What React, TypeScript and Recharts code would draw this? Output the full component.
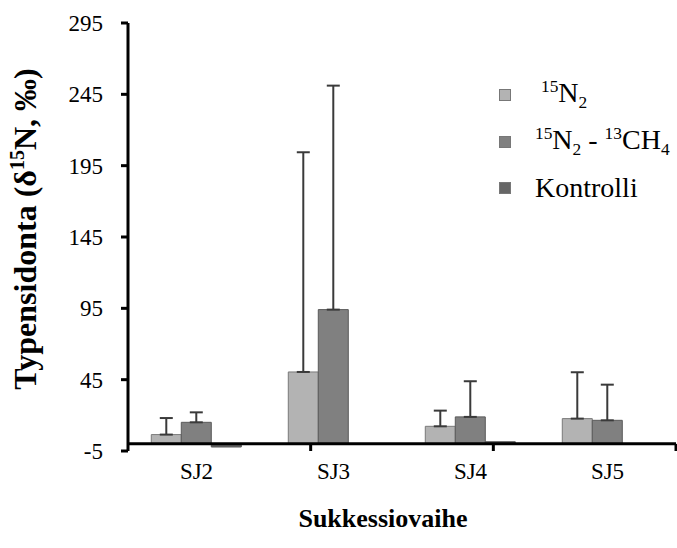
import { BarChart, Bar, XAxis, YAxis, ErrorBar, ReferenceLine, Legend } from 'recharts';

// Typensidonta sukkessiovaiheittain (δ15N, ‰), keskiarvo + keskihajonta ylöspäin
const categories = ['SJ2', 'SJ3', 'SJ4', 'SJ5'];
const n2Values = [6.5, 50.4, 12.3, 17.7];
const n2Errors = [11.6, 154, 11, 32.5];
const n2ch4Values = [15.1, 94.1, 18.9, 16.5];
const n2ch4Errors = [7, 157, 25, 25];
const controlValues = [-2.2, 0, 1.5, 0];
const yTicks = [-5, 45, 95, 145, 195, 245, 295];
// rajat kategorioiden välissä (apuakselilla 0..4)
const boundaries = [1, 2, 3, 4];

const FONT = 'Liberation Serif, Tinos, DejaVu Serif, serif';
const LIGHT = '#b3b3b3';
const MID = '#808080';
const DARK = '#666666';

const rows = categories.map((name, i) => ({
  name,
  n2: n2Values[i],
  n2Err: [0, n2Errors[i]],
  n2ch4: n2ch4Values[i],
  n2ch4Err: [0, n2ch4Errors[i]],
  kontrolli: controlValues[i],
}));

const sup = { fontSize: '0.62em', verticalAlign: '0.6em' } as const;
const sub = { fontSize: '0.62em', verticalAlign: '-0.35em' } as const;

const legendItems = [
  { color: LIGHT, indent: 6, label: <><span style={sup}>15</span>N<span style={sub}>2</span></> },
  {
    color: MID,
    indent: 0,
    label: <><span style={sup}>15</span>N<span style={sub}>2</span> - <span style={sup}>13</span>CH<span style={sub}>4</span></>,
  },
  { color: DARK, indent: 0, label: <>Kontrolli</> },
];

function LegendBox() {
  return (
    <div style={{ fontFamily: FONT, fontSize: 28, color: '#000' }}>
      {legendItems.map((it, i) => (
        <div key={i} style={{ display: 'flex', alignItems: 'center', height: 46.5, whiteSpace: 'nowrap' }}>
          <span
            style={{
              display: 'inline-block',
              width: 10,
              height: 10,
              background: it.color,
              border: '1px solid #777',
              marginRight: 24 + it.indent,
            }}
          />
          <span style={{ lineHeight: 1 }}>{it.label}</span>
        </div>
      ))}
    </div>
  );
}

function YTitle(props: any) {
  const vb = props.viewBox;
  const cx = 36;
  const cy = vb.y + vb.height / 2 - 8;
  return (
    <text
      x={cx}
      y={cy}
      transform={`rotate(-90 ${cx} ${cy})`}
      textAnchor="middle"
      style={{ fontFamily: FONT }}
      fontWeight="bold"
      fontSize={32}
      fill="#000"
    >
      Typensidonta (δ<tspan dy={-12} fontSize={20}>15</tspan>
      <tspan dy={12}>N, ‰)</tspan>
    </text>
  );
}

function XTitle(props: any) {
  const vb = props.viewBox;
  return (
    <text
      x={vb.x + vb.width / 2 - 19}
      y={vb.y + 76}
      textAnchor="middle"
      style={{ fontFamily: FONT }}
      fontWeight="bold"
      fontSize={26}
      fill="#000"
    >
      Sukkessiovaihe
    </text>
  );
}

export default function App() {
  return (
    <div style={{ position: 'absolute', left: 0, top: 0, background: '#fff', fontFamily: FONT }}>
      <BarChart
        width={677}
        height={548}
        data={rows}
        margin={{ top: 23, right: 1, bottom: 0, left: 0 }}
        barCategoryGap="17%"
        barGap={0}
        style={{ fontFamily: FONT }}
      >
        <XAxis
          dataKey="name"
          axisLine={false}
          tickLine={false}
          tickSize={0}
          tickMargin={12}
          height={97}
          tick={{ fill: '#000', fontSize: 23, style: { fontFamily: FONT } }}
          label={<XTitle />}
        />
        <XAxis xAxisId="edge" type="number" domain={[0, 4]} hide />
        <YAxis
          width={128}
          domain={[-5, 295]}
          ticks={yTicks}
          interval={0}
          tickSize={7}
          tickMargin={18}
          axisLine={{ stroke: '#000', strokeWidth: 3 }}
          tickLine={{ stroke: '#000', strokeWidth: 3 }}
          tick={{ fill: '#000', fontSize: 23, style: { fontFamily: FONT } }}
          label={<YTitle />}
        />
        <Legend
          layout="vertical"
          align="center"
          verticalAlign="middle"
          content={<LegendBox />}
          wrapperStyle={{ position: 'absolute', left: 499, top: 72, width: 'auto', height: 'auto' }}
        />
        <Bar dataKey="n2" name="15N2" fill={LIGHT} stroke="#7a7a7a" strokeWidth={1} isAnimationActive={false}>
          <ErrorBar dataKey="n2Err" direction="y" width={6.5} stroke="#3a3a3a" strokeWidth={2} isAnimationActive={false} />
        </Bar>
        <Bar dataKey="n2ch4" name="15N2 - 13CH4" fill={MID} stroke="#5a5a5a" strokeWidth={1} isAnimationActive={false}>
          <ErrorBar dataKey="n2ch4Err" direction="y" width={6.5} stroke="#3a3a3a" strokeWidth={2} isAnimationActive={false} />
        </Bar>
        <Bar dataKey="kontrolli" name="Kontrolli" fill={DARK} stroke="#555" strokeWidth={1} isAnimationActive={false} />
        <ReferenceLine y={0} stroke="#000" strokeWidth={3} />
        {boundaries.map((b) => (
          <ReferenceLine
            key={b}
            xAxisId="edge"
            segment={[
              { x: b, y: 0 },
              { x: b, y: -5 },
            ]}
            stroke="#000"
            strokeWidth={3}
          />
        ))}
      </BarChart>
    </div>
  );
}
